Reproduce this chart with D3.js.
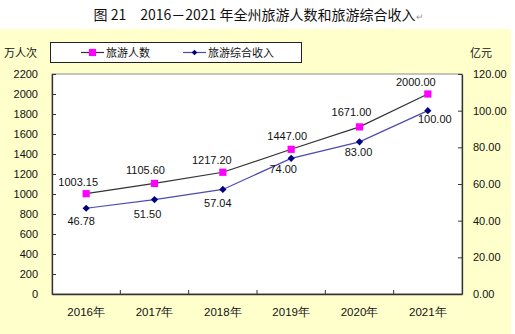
<!DOCTYPE html>
<html><head><meta charset="utf-8">
<script src="https://cdn.jsdelivr.net/npm/d3@7"></script>
<style>
html,body{margin:0;padding:0;background:#fff;}
svg{display:block;}
text{font-family:"Liberation Sans",Arial,sans-serif;}
.cjk{font-family:"Noto Sans CJK SC","Liberation Sans",sans-serif;}
</style></head>
<body>
<script>
// ---- data ----
const categories = ["2016年","2017年","2018年","2019年","2020年","2021年"];
const touristValues = [1003.15, 1105.60, 1217.20, 1447.00, 1671.00, 2000.00];
const revenueValues = [46.78, 51.50, 57.04, 74.00, 83.00, 100.00];
const leftTicks = [0,200,400,600,800,1000,1200,1400,1600,1800,2000,2200];
const rightTicks = [0,20,40,60,80,100,120];
const seriesNames = ["旅游人数","旅游综合收入"];
const titleText = "图 21　2016－2021 年全州旅游人数和旅游综合收入";
const leftUnit = "万人次";
const rightUnit = "亿元";
// label nudges (px)
const touristLabelDx = [-8,-9,-11,-4,-8,-12];
const touristLabelDy = [-8,-9,-8,-9,-11,-8];
const revenueLabelDx = [-5,-7,-5,-8,-1,7];
const revenueLabelDy = [17,18,18,15,14,12];

const W = 515, H = 334;
const plot = {l:52, r:462, t:74, b:294};

const svg = d3.select("body").append("svg").attr("width",W).attr("height",H);

svg.append("rect").attr("x",0).attr("y",0).attr("width",W).attr("height",H).attr("fill","#fff");
svg.append("rect").attr("x",0).attr("y",29).attr("width",511).attr("height",H-29).attr("fill","#FFFFCC");

// title
const t = svg.append("text").attr("class","cjk").attr("x",259).attr("y",20)
  .attr("text-anchor","middle").attr("font-size",14).attr("fill","#111");
t.append("tspan").text(titleText);
t.append("tspan").attr("font-size",9).attr("fill","#999").attr("dx",1).text("↵");

const x = d3.scaleBand().domain(categories).range([plot.l, plot.r]).padding(0);
const yL = d3.scaleLinear().domain([0,2200]).range([plot.b, plot.t]);
const yR = d3.scaleLinear().domain([0,120]).range([plot.b, plot.t]);

// plot area
svg.append("rect").attr("x",plot.l).attr("y",plot.t).attr("width",plot.r-plot.l).attr("height",plot.b-plot.t)
  .attr("fill","#fff").attr("stroke","#8c8c8c").attr("stroke-width",1);

// axes
const axL = svg.append("g").attr("transform",`translate(${plot.l},0)`)
  .call(d3.axisLeft(yL).tickValues(leftTicks).tickSizeInner(-4).tickSizeOuter(0).tickPadding(14).tickFormat(d3.format("d")));
const axR = svg.append("g").attr("transform",`translate(${plot.r},0)`)
  .call(d3.axisRight(yR).tickValues(rightTicks).tickSizeInner(-4).tickSizeOuter(0).tickPadding(11).tickFormat(d3.format(".2f")));
const axB = svg.append("g").attr("transform",`translate(0,${plot.b})`)
  .call(d3.axisBottom(x).tickSize(0).tickPadding(14));
[axL,axR,axB].forEach(a=>{
  a.select(".domain").attr("stroke","#333").attr("stroke-width",1.3);
  a.selectAll(".tick line").attr("stroke","#333");
  a.selectAll(".tick text").attr("font-size",11).attr("fill","#111")
   .attr("font-family",'"Liberation Sans",Arial,sans-serif');
});
axB.selectAll(".tick text").attr("font-size",11.5).attr("font-family",'"Noto Sans CJK SC","Liberation Sans",sans-serif');
// category boundary ticks (inside)
svg.append("g").selectAll("line").data(categories.slice(1)).join("line")
  .attr("x1",d=>x(d)).attr("x2",d=>x(d)).attr("y1",plot.b).attr("y2",plot.b-4)
  .attr("stroke","#333");

const cx = d=>x(d)+x.bandwidth()/2;

// lines
const lineT = d3.line().x((d,i)=>cx(categories[i])).y(d=>yL(d));
const lineR = d3.line().x((d,i)=>cx(categories[i])).y(d=>yR(d));
svg.append("path").attr("d",lineT(touristValues)).attr("fill","none").attr("stroke","#333").attr("stroke-width",1.2);
svg.append("path").attr("d",lineR(revenueValues)).attr("fill","none").attr("stroke","#4b4bb0").attr("stroke-width",1.2);

const sq = d3.symbol().type(d3.symbolSquare).size(52);
const dm = d3.symbol().type(d3.symbolSquare).size(26);

svg.append("g").selectAll("path").data(touristValues).join("path")
  .attr("d",sq).attr("transform",(d,i)=>`translate(${cx(categories[i])},${yL(d)})`).attr("fill","#FF00FF");
svg.append("g").selectAll("path").data(revenueValues).join("path")
  .attr("d",dm).attr("transform",(d,i)=>`translate(${cx(categories[i])},${yR(d)}) rotate(45)`).attr("fill","#000080");

// data labels
svg.append("g").selectAll("text").data(touristValues).join("text")
  .attr("x",(d,i)=>cx(categories[i])+touristLabelDx[i]).attr("y",(d,i)=>yL(d)+touristLabelDy[i])
  .attr("text-anchor","middle").attr("font-size",11).attr("fill","#111").text(d=>d3.format(".2f")(d));
svg.append("g").selectAll("text").data(revenueValues).join("text")
  .attr("x",(d,i)=>cx(categories[i])+revenueLabelDx[i]).attr("y",(d,i)=>yR(d)+revenueLabelDy[i])
  .attr("text-anchor","middle").attr("font-size",11).attr("fill","#111").text(d=>d3.format(".2f")(d));

// unit labels
svg.append("text").attr("class","cjk").attr("x",4).attr("y",57).attr("font-size",11).attr("fill","#111").text(leftUnit);
svg.append("text").attr("class","cjk").attr("x",470).attr("y",57).attr("font-size",11).attr("fill","#111").text(rightUnit);

// legend
const lg = svg.append("g");
lg.append("rect").attr("x",50.5).attr("y",42.5).attr("width",251).attr("height",20).attr("fill","#fff").attr("stroke","#222");
const legendItems = [
  {name:seriesNames[0], x1:81, x2:104, color:"#333", sym:sq, fill:"#FF00FF", tx:106, rot:0},
  {name:seriesNames[1], x1:183, x2:206, color:"#4b4bb0", sym:d3.symbol().type(d3.symbolSquare).size(16), fill:"#000080", tx:208, rot:45}
];
legendItems.forEach(it=>{
  lg.append("line").attr("x1",it.x1).attr("x2",it.x2).attr("y1",52.5).attr("y2",52.5).attr("stroke",it.color).attr("stroke-width",1.2);
  lg.append("path").attr("d",it.sym).attr("transform",`translate(${(it.x1+it.x2)/2},52.5) rotate(${it.rot})`).attr("fill",it.fill);
  lg.append("text").attr("class","cjk").attr("x",it.tx).attr("y",56.5).attr("font-size",11).attr("fill","#111").text(it.name);
});
</script>
</body></html>
